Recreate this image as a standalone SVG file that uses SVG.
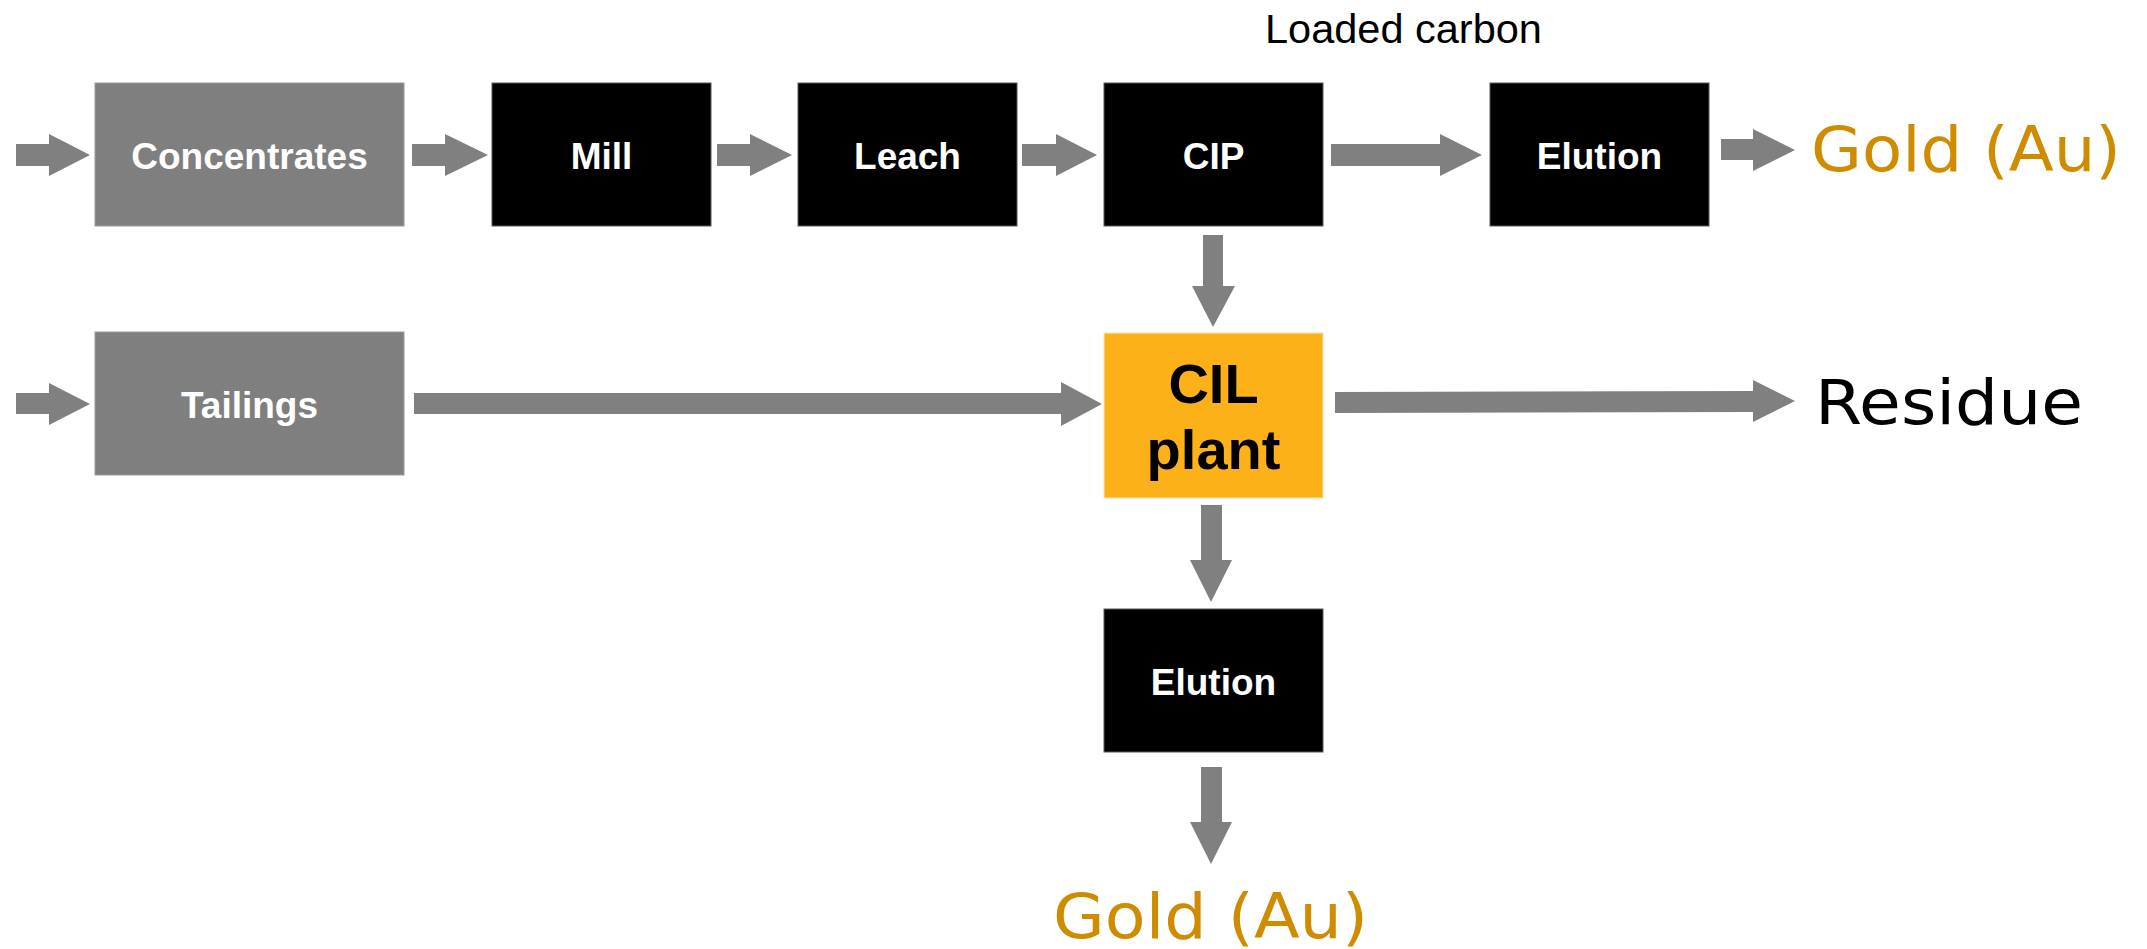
<svg xmlns="http://www.w3.org/2000/svg" width="2147" height="949" viewBox="0 0 2147 949">
<style>
.grey{fill:#7f7f7f;stroke:#9a9a9a;stroke-width:1}
.black{fill:#000;stroke:#595959;stroke-width:1}
.cil{fill:#fdb119;stroke:#fde3b0;stroke-width:1}
.lbl{font-family:"Liberation Sans",Arial,sans-serif;font-weight:bold;font-size:37px;fill:#fff;text-anchor:middle}
.cillbl{font-family:"Liberation Sans",Arial,sans-serif;font-weight:bold;font-size:56px;fill:#000;text-anchor:middle}
.out{font-family:"DejaVu Sans",Verdana,sans-serif;font-size:63px}
.gold{fill:#d08c00}
.arr{fill:#808080}
</style>
<rect width="2147" height="949" fill="#fff"/>
<g id="connectors">
<polygon class="arr" points="16,144 49,144 49,134 90,155 49,176 49,166 16,166"/>
<polygon class="arr" points="412,144 445,144 445,134 488,155 445,176 445,166 412,166"/>
<polygon class="arr" points="717,144 750,144 750,134 792,155 750,176 750,166 717,166"/>
<polygon class="arr" points="1022,144 1056,144 1056,134 1097,155 1056,176 1056,166 1022,166"/>
<polygon class="arr" points="1331,144 1440,144 1440,134 1482,155 1440,176 1440,166 1331,166"/>
<polygon class="arr" points="1721,139 1753,139 1753,129 1795,150 1753,171 1753,160 1721,160"/>
<polygon class="arr" points="16,393 49,393 49,383 90,404 49,425 49,414 16,414"/>
<polygon class="arr" points="414,393 1061,393 1061,382 1102,404 1061,426 1061,414 414,414"/>
<polygon class="arr" points="1335,392 1753,391 1753,380 1795,401 1753,422 1753,412 1335,413"/>
<polygon class="arr" points="1203,235 1223,235 1223,286 1235,286 1213,327 1192,286 1203,286"/>
<polygon class="arr" points="1201,505 1222,505 1222,560 1232,560 1211,602 1190,560 1201,560"/>
<polygon class="arr" points="1201,767 1222,767 1222,822 1232,822 1211,864 1190,822 1201,822"/>
</g>
<g id="concentrates"><rect class="grey" x="95" y="83" width="309" height="143"/><text class="lbl" x="249.5" y="169">Concentrates</text></g>
<g id="mill"><rect class="black" x="492" y="83" width="219" height="143"/><text class="lbl" x="601.5" y="169">Mill</text></g>
<g id="leach"><rect class="black" x="798" y="83" width="219" height="143"/><text class="lbl" x="907.5" y="169">Leach</text></g>
<g id="cip"><rect class="black" x="1104" y="83" width="219" height="143"/><text class="lbl" x="1213.5" y="169">CIP</text></g>
<g id="elution1"><rect class="black" x="1490" y="83" width="219" height="143"/><text class="lbl" x="1599.5" y="169">Elution</text></g>
<g id="gold1"><text class="out gold" x="1811" y="171" textLength="310" lengthAdjust="spacingAndGlyphs">Gold (Au)</text></g>
<g id="loaded-carbon"><text x="1265" y="42.7" font-family="Liberation Sans,Arial,sans-serif" font-size="41.5" fill="#000">Loaded carbon</text></g>
<g id="tailings"><rect class="grey" x="95" y="332" width="309" height="143"/><text class="lbl" x="249.5" y="418">Tailings</text></g>
<g id="cil"><rect class="cil" x="1104" y="333" width="219" height="165"/><text class="cillbl" x="1213.5" y="403">CIL</text><text class="cillbl" x="1213.5" y="469">plant</text></g>
<g id="residue"><text class="out" x="1815" y="424" fill="#000" textLength="268" lengthAdjust="spacingAndGlyphs">Residue</text></g>
<g id="elution2"><rect class="black" x="1104" y="609" width="219" height="143"/><text class="lbl" x="1213.5" y="695">Elution</text></g>
<g id="gold2"><text class="out gold" x="1053" y="938" textLength="315" lengthAdjust="spacingAndGlyphs">Gold (Au)</text></g>
</svg>
